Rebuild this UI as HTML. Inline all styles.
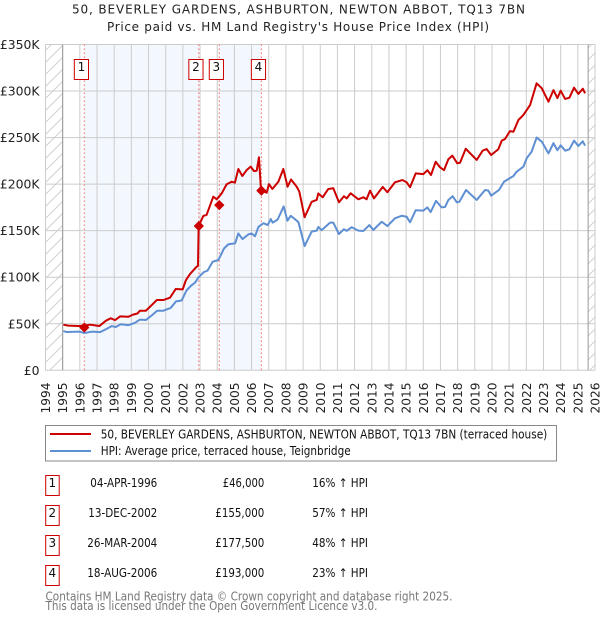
<!DOCTYPE html>
<html>
<head>
<meta charset="utf-8">
<title>50, Beverley Gardens price chart</title>
<style>
html,body{margin:0;padding:0;background:#fff;width:600px;height:620px;overflow:hidden}
svg{display:block;font-family:"DejaVu Sans","Liberation Sans",sans-serif}
</style>
</head>
<body>
<svg id="chart" width="600" height="620" viewBox="0 0 600 620" xmlns="http://www.w3.org/2000/svg">
  <defs>
    <pattern id="hatch" patternUnits="userSpaceOnUse" width="12" height="12">
      <path d="M-1 13L13 -1M-1 1L1 -1M11 13L13 11" stroke="#d0d0d0" stroke-width="1" fill="none"/>
    </pattern>
  </defs>
  <text x="298.5" y="13.5" text-anchor="middle" font-size="12" textLength="453" fill="#222">50, BEVERLEY GARDENS, ASHBURTON, NEWTON ABBOT, TQ13 7BN</text>
  <text x="298" y="31" text-anchor="middle" font-size="12" textLength="382" fill="#222">Price paid vs. HM Land Registry's House Price Index (HPI)</text>
  <g id="plot"></g>

  <g>
    <rect x="45.5" y="425.5" width="511" height="35.5" fill="#fff" stroke="#888" stroke-width="1"/>
    <line x1="50" x2="91" y1="434" y2="434" stroke="#cc0000" stroke-width="2"/>
    <text x="100.7" y="438.3" font-size="12" textLength="446.6" lengthAdjust="spacingAndGlyphs" fill="#111">50, BEVERLEY GARDENS, ASHBURTON, NEWTON ABBOT, TQ13 7BN (terraced house)</text>
    <line x1="50" x2="91" y1="451" y2="451" stroke="#5f8fd3" stroke-width="2"/>
    <text x="100.7" y="455" font-size="12" textLength="250" lengthAdjust="spacingAndGlyphs" fill="#111">HPI: Average price, terraced house, Teignbridge</text>
  </g>

  <g font-size="12" fill="#111">
    <g>
      <rect x="45.7" y="475.5" width="13.5" height="20" fill="#fff" stroke="#cc0000"/>
      <text x="52.3" y="487.2" text-anchor="middle">1</text>
      <text x="157.3" y="487.2" text-anchor="end" textLength="67" lengthAdjust="spacingAndGlyphs">04-APR-1996</text>
      <text x="264.3" y="487.2" text-anchor="end" textLength="41.6" lengthAdjust="spacingAndGlyphs">£46,000</text>
      <text x="312.3" y="487.2" textLength="55.7" lengthAdjust="spacingAndGlyphs">16% ↑ HPI</text>
    </g>
    <g>
      <rect x="45.7" y="505.5" width="13.5" height="20" fill="#fff" stroke="#cc0000"/>
      <text x="52.3" y="517.2" text-anchor="middle">2</text>
      <text x="157.3" y="517.2" text-anchor="end" textLength="69" lengthAdjust="spacingAndGlyphs">13-DEC-2002</text>
      <text x="264.3" y="517.2" text-anchor="end" textLength="49" lengthAdjust="spacingAndGlyphs">£155,000</text>
      <text x="312.3" y="517.2" textLength="55.7" lengthAdjust="spacingAndGlyphs">57% ↑ HPI</text>
    </g>
    <g>
      <rect x="45.7" y="535.5" width="13.5" height="20" fill="#fff" stroke="#cc0000"/>
      <text x="52.3" y="547.2" text-anchor="middle">3</text>
      <text x="157.3" y="547.2" text-anchor="end" textLength="70" lengthAdjust="spacingAndGlyphs">26-MAR-2004</text>
      <text x="264.3" y="547.2" text-anchor="end" textLength="49" lengthAdjust="spacingAndGlyphs">£177,500</text>
      <text x="312.3" y="547.2" textLength="55.7" lengthAdjust="spacingAndGlyphs">48% ↑ HPI</text>
    </g>
    <g>
      <rect x="45.7" y="565.5" width="13.5" height="20" fill="#fff" stroke="#cc0000"/>
      <text x="52.3" y="577.2" text-anchor="middle">4</text>
      <text x="157.3" y="577.2" text-anchor="end" textLength="70" lengthAdjust="spacingAndGlyphs">18-AUG-2006</text>
      <text x="264.3" y="577.2" text-anchor="end" textLength="49" lengthAdjust="spacingAndGlyphs">£193,000</text>
      <text x="312.3" y="577.2" textLength="55.7" lengthAdjust="spacingAndGlyphs">23% ↑ HPI</text>
    </g>
  </g>

  <text x="45.5" y="600.3" font-size="12" fill="#777" textLength="407" lengthAdjust="spacingAndGlyphs">Contains HM Land Registry data © Crown copyright and database right 2025.</text>
  <text x="45.5" y="610" font-size="12" fill="#777" textLength="332" lengthAdjust="spacingAndGlyphs">This data is licensed under the Open Government Licence v3.0.</text>
</svg>

<script>
const xTickYears = [1994,1995,1996,1997,1998,1999,2000,2001,2002,2003,2004,2005,2006,2007,2008,2009,2010,2011,2012,2013,2014,2015,2016,2017,2018,2019,2020,2021,2022,2023,2024,2025,2026];
const yTickValues = [0,50,100,150,200,250,300,350];
const yTickLabels = ['£0','£50K','£100K','£150K','£200K','£250K','£300K','£350K'];

const priceDates = [1995.04,1995.33,1995.91,1996.26,1996.59,1997.14,1997.52,1997.8,1998.05,1998.34,1998.83,1999.08,1999.35,1999.5,1999.84,2000.09,2000.48,2000.86,2001.25,2001.58,2001.99,2002.18,2002.42,2002.8,2002.88,2002.92,2003.19,2003.38,2003.77,2003.97,2004.26,2004.55,2004.84,2005.03,2005.23,2005.46,2005.71,2005.95,2006.14,2006.3,2006.43,2006.55,2006.88,2007.01,2007.21,2007.56,2007.85,2008.1,2008.3,2008.63,2008.78,2009.09,2009.5,2009.79,2009.89,2010.14,2010.47,2010.76,2011.09,2011.38,2011.54,2011.77,2012.22,2012.51,2012.7,2012.9,2013.13,2013.64,2013.91,2014.35,2014.78,2015.03,2015.23,2015.56,2016,2016.24,2016.45,2016.72,2016.98,2017.21,2017.46,2017.69,2017.98,2018.14,2018.47,2019.11,2019.46,2019.69,2019.95,2020.37,2020.57,2020.76,2021.05,2021.25,2021.54,2021.83,2022.22,2022.6,2022.9,2023.29,2023.58,2023.81,2024,2024.26,2024.51,2024.78,2025.03,2025.29,2025.42];
const priceValues = [49,48,47.6,48,49,47.6,53.3,55.9,53.9,57.9,57.5,59.7,61,64,64,68.3,75.5,75.5,78,87.3,87,97,103.5,111.3,112,155,165.8,166.9,186.5,183.7,190,199.9,202.6,201.5,216.3,208.7,215,218.8,214,214.5,228.8,193.7,190.8,200,194.8,202.6,216.3,197.2,205,197.2,192,164.4,181,183,190,185.9,194.8,195.6,180.5,187,184.7,190.2,183.7,185.9,183.7,193,184.7,197,191.3,202,204.4,202,196.7,211.6,210.7,215,209.8,224,218,215,226.7,230.6,222.4,223,238,226,236,237.7,231.3,237.5,246.7,248.5,257,256.3,268.9,274.3,285,308.3,303,288.6,301,292.4,300.4,291.5,292.9,303.6,296.9,302.5,297.6];

const hpiDates = [1995.04,1995.23,1996,1996.26,1996.69,1997.18,1997.56,1997.85,1998.09,1998.38,1998.83,1999.21,1999.5,1999.84,2000.19,2000.5,2000.86,2001.29,2001.6,2001.93,2002.22,2002.51,2002.7,2002.92,2003.23,2003.43,2003.74,2004.07,2004.4,2004.65,2005.04,2005.23,2005.47,2005.82,2006.01,2006.2,2006.4,2006.69,2006.94,2007.12,2007.23,2007.52,2007.87,2008.09,2008.28,2008.59,2008.73,2008.83,2009.09,2009.5,2009.79,2009.89,2010.08,2010.57,2010.76,2011.09,2011.38,2011.54,2011.83,2012.22,2012.51,2012.86,2013.09,2013.58,2013.91,2014.35,2014.74,2015.03,2015.23,2015.56,2016,2016.24,2016.43,2016.74,2017.07,2017.27,2017.46,2017.71,2017.95,2018.1,2018.49,2019.11,2019.6,2019.79,2019.95,2020.41,2020.7,2021.25,2021.44,2021.83,2022.02,2022.31,2022.6,2022.9,2023.29,2023.58,2023.81,2024,2024.26,2024.51,2024.78,2025.03,2025.29,2025.42];
const hpiValues = [42.2,41.1,41.5,40,41.5,41,44.5,47.5,46.5,49.5,48.5,51,54.5,54,59,64,64,67,74,75,86,91.5,94,100,105.6,107,116.7,118.5,131,135.4,136.4,147,141,146,147,144,154,158,156,162.5,158.6,162,176,160.7,166,161.4,159,152,133.5,149,150,154,150.5,158.6,158.6,146.4,151.6,149.8,153.7,150,149.7,156,150.7,159.6,155,163.3,166,165,159,172,171.5,175,170,182,175,175.5,183,187,180.5,181,193.7,183,193.7,193,187.6,193.7,202.6,208.7,213.4,218.7,227.7,234.9,250,245.6,233,244,236.4,241.7,236,237.4,246.7,241,246,241.3];

const saleLabels = ['1','2','3','4'];
const saleDates = [1996.26,2002.93,2004.12,2006.57];
const salePrices = [46,155,177.5,193];
const dataStartYear = 1995;
const dataEndYear = 2025.6;

const NS = 'http://www.w3.org/2000/svg';
const plot = document.getElementById('plot');
const LEFT = 45.5, RIGHT = 595, TOP = 44.5, BOTTOM = 370.3;
const xScale = function (year) { return LEFT + (year - 1994) * (RIGHT - LEFT) / 32; };
const yScale = function (v) { return BOTTOM - v * (BOTTOM - TOP) / 350; };
function make(tag, attrs, parent) {
  const el = document.createElementNS(NS, tag);
  for (const k in attrs) el.setAttribute(k, attrs[k]);
  (parent || plot).appendChild(el);
  return el;
}
function linePath(xs, ys) {
  return xs.map(function (d, i) { return (i ? 'L' : 'M') + xScale(d).toFixed(2) + ' ' + yScale(ys[i]).toFixed(2); }).join('');
}

/* hatched out-of-range regions */
const hatchLeft = make('rect', {x: LEFT, y: TOP, width: xScale(dataStartYear) - LEFT, height: BOTTOM - TOP, fill: 'url(#hatch)'});


const hatchRight = make('rect', {x: xScale(dataEndYear), y: TOP, width: RIGHT - xScale(dataEndYear), height: BOTTOM - TOP, fill: 'url(#hatch)'});



/* shaded bands between alternating sales */
for (let i = 0; i + 1 < saleDates.length; i += 2) {
  const band = make('rect', {x: xScale(saleDates[i]), y: TOP, width: xScale(saleDates[i + 1]) - xScale(saleDates[i]), height: BOTTOM - TOP, fill: '#f3f7fe'});
  
  
}

/* grid + tick labels */
yTickValues.forEach(function (v, i) {
  const g = make('line', {x1: LEFT, x2: RIGHT, y1: yScale(v), y2: yScale(v), stroke: '#cccccc', 'stroke-width': 1});
  
  
  const t = make('text', {x: 39.5, y: yScale(v) + 4.5, 'text-anchor': 'end', 'font-size': 12.4, fill: '#222'});
  
  
  t.textContent = yTickLabels[i];
});
xTickYears.forEach(function (yr) {
  const x = xScale(yr);
  const g = make('line', {x1: x, x2: x, y1: TOP, y2: BOTTOM, stroke: '#cccccc', 'stroke-width': 1});
  
  
  const t = make('text', {x: 0, y: 0, 'text-anchor': 'end', 'font-size': 12.2, fill: '#222', transform: 'translate(' + (x + 4.5) + ',382.5) rotate(-90)'});
  
  
  t.textContent = String(yr);
});

/* data range limits */
[dataStartYear, dataEndYear].forEach(function (yr) {
  const l = make('line', {x1: xScale(yr), x2: xScale(yr), y1: TOP, y2: BOTTOM, stroke: '#999999', 'stroke-width': 1});
  
  
});

/* sale marker lines */
saleDates.forEach(function (d) {
  const l = make('line', {x1: xScale(d), x2: xScale(d), y1: TOP, y2: BOTTOM, stroke: '#ff6666', 'stroke-width': 1, 'stroke-dasharray': '1.5 2.5'});
  
  
});

/* series */
const hpiLine = make('path', {d: linePath(hpiDates, hpiValues), fill: 'none', stroke: '#5f8fd3', 'stroke-width': 2, 'stroke-linejoin': 'round'});


const priceLine = make('path', {d: linePath(priceDates, priceValues), fill: 'none', stroke: '#cc0000', 'stroke-width': 2, 'stroke-linejoin': 'round'});



/* sale markers and numbered flags */
saleDates.forEach(function (d, i) {
  const x = xScale(d), y = yScale(salePrices[i]);
  const m = make('path', {d: 'M' + x + ' ' + (y - 4.6) + 'L' + (x + 4.6) + ' ' + y + 'L' + x + ' ' + (y + 4.6) + 'L' + (x - 4.6) + ' ' + y + 'Z', fill: '#cc0000', stroke: '#cc0000', 'stroke-width': 0.8, 'stroke-linejoin': 'round'});
  
  
  const b = make('rect', {x: x - 10, y: 59.5, width: 14.2, height: 20, fill: '#fff', stroke: '#cc0000', 'stroke-width': 1});
  
  
  const t = make('text', {x: x - 2.9, y: 71, 'text-anchor': 'middle', 'font-size': 12, fill: '#111'});
  
  
  t.textContent = saleLabels[i];
});
</script>
</body>
</html>
